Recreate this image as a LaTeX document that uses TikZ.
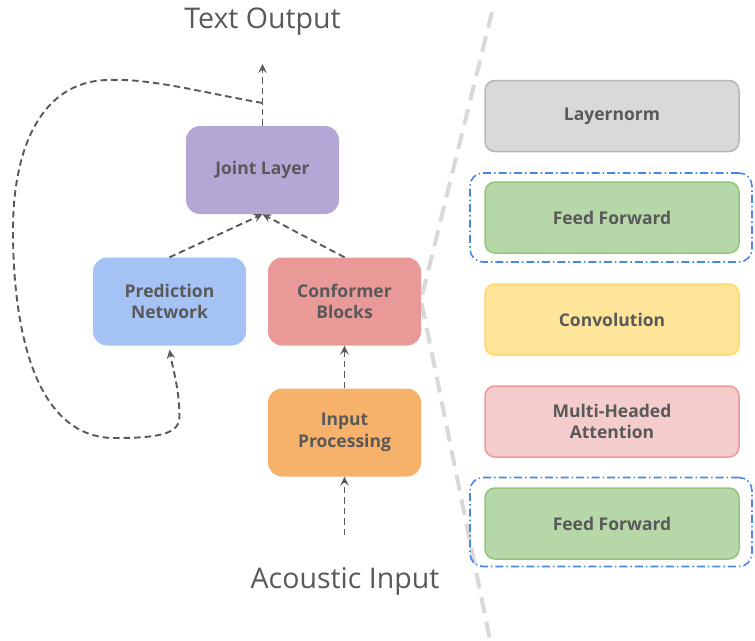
\documentclass[tikz,border=0pt]{standalone}
\usepackage{fontspec}
\setmainfont{Open Sans}
\usetikzlibrary{arrows.meta,calc}
\definecolor{txt}{HTML}{595959}
\definecolor{jointc}{HTML}{B4A7D6}
\definecolor{predc}{HTML}{A4C2F4}
\definecolor{confc}{HTML}{EA9999}
\definecolor{inpc}{HTML}{F6B26B}
\definecolor{lnf}{HTML}{D9D9D9}
\definecolor{lnb}{HTML}{B7B7B7}
\definecolor{fff}{HTML}{B6D7A8}
\definecolor{ffb}{HTML}{93C47D}
\definecolor{cvf}{HTML}{FFE599}
\definecolor{cvb}{HTML}{FFD966}
\definecolor{mhf}{HTML}{F4CCCC}
\definecolor{mhb}{HTML}{EA9999}
\definecolor{grpc}{HTML}{4A86E8}
\definecolor{divc}{HTML}{D9D9D9}
\begin{document}
\begin{tikzpicture}[x=1pt,y=-1pt,
  lbox/.style={rounded corners=14pt, minimum width=153pt, minimum height=88pt, inner sep=0pt,
    text=txt, font=\bfseries\fontsize{17.5}{21.5}\selectfont, align=center},
  rbox/.style={rounded corners=10pt, line width=1.5pt, minimum width=254pt, minimum height=71pt, inner sep=0pt,
    text=txt, font=\bfseries\fontsize{17.5}{21.5}\selectfont, align=center},
  grp/.style={draw=grpc, line width=1.6pt, rounded corners=13pt, minimum width=282pt, minimum height=89pt,
    dash pattern=on 8pt off 3pt on 1.5pt off 3pt},
  arr/.style={draw=txt, line width=1.9pt, dash pattern=on 6.5pt off 4pt,
    -{Stealth[length=9pt,width=8.5pt,inset=3.5pt]}},
  title/.style={text=txt, font=\fontsize{28.5}{34}\selectfont},
  divider/.style={draw=divc, line width=4pt, dash pattern=on 16pt off 9pt}
]
\useasboundingbox (0,0) rectangle (755,640);
% divider
\draw[divider] (492,12) -- (421,300) -- (490,640);
% left boxes
\node[lbox, fill=jointc] (joint) at (262.5,170) {Joint Layer};
\node[lbox, fill=predc] (pred) at (169.5,301.5) {Prediction\\Network};
\node[lbox, fill=confc] (conf) at (344.5,301.5) {Conformer\\Blocks};
\node[lbox, fill=inpc] (inp) at (344.5,432.5) {Input\\Processing};
\node[title] (tout) at (262.5,22) {Text Output};
\node[title] (ain) at (345,581) {Acoustic Input};
\coordinate (outc) at (262.5,64);
\coordinate (fb) at (262.5,103);
\coordinate (inc) at (344.5,535);
% arrows
\draw[arr] (joint.north) -- (outc);
\draw[arr] (pred.north) -- (joint.south);
\draw[arr] (conf.north) -- (joint.south);
\draw[arr] (inp.north) -- (conf.south);
\draw[arr] (inc) -- (inp.south);
\draw[arr] (fb) .. controls (200,92) and (150,78) .. (107,80)
  .. controls (40,82) and (13,150) .. (13,230)
  .. controls (13,330) and (35,440) .. (117,438)
  .. controls (185,438) and (180,425) .. (179,405)
  .. controls (178,385) and (172,365) .. ($(pred.south)+(0,4)$);
% right side
\node[grp] (g1) at (611,217.5) {};
\node[grp] (g2) at (611,522) {};
\node[rbox, fill=lnf, draw=lnb] (ln) at (612,116) {Layernorm};
\node[rbox, fill=fff, draw=ffb] (ff1) at (612,217.5) {Feed Forward};
\node[rbox, fill=cvf, draw=cvb] (cv) at (612,319.5) {Convolution};
\node[rbox, fill=mhf, draw=mhb] (mh) at (612,421.5) {Multi-Headed\\Attention};
\node[rbox, fill=fff, draw=ffb] (ff2) at (612,523.5) {Feed Forward};
\end{tikzpicture}
\end{document}
